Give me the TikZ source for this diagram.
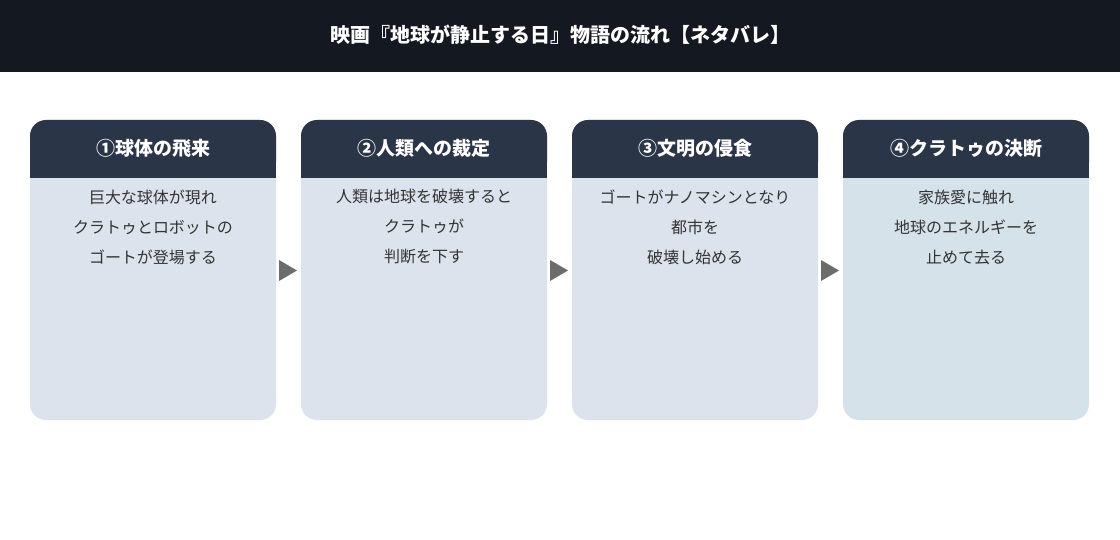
\documentclass[tikz,border=0pt]{standalone}
\usepackage{fontspec}
\setmainfont{Noto Sans CJK JP}
\begin{document}
\begin{tikzpicture}[x=1pt,y=1pt,
  card/.style={fill=#1,rounded corners=16pt,draw=none},
  head/.style={text=white,font=\fontsize{19}{22}\selectfont\bfseries,anchor=center},
  body/.style={text=black!80,font=\fontsize{16}{30}\selectfont,align=center,anchor=north},
  arr/.style={fill=gray!85!black,draw=none}]
\useasboundingbox (0,0) rectangle (1120,-540);
\fill[white] (0,0) rectangle (1120,-540);
\fill[fill={rgb,255:red,20;green,24;blue,33}] (0,0) rectangle (1120,-72);
\node[text=white,font=\fontsize{20}{24}\selectfont\bfseries] (title) at (560,-35) {映画『地球が静止する日』物語の流れ【ネタバレ】};
\definecolor{hd}{RGB}{42,53,71}
\definecolor{bd}{RGB}{220,227,236}
\definecolor{bd4}{RGB}{214,226,234}
\foreach \i/\x/\t/\b/\c in {1/30/①球体の飛来/{巨大な球体が現れ\\クラトゥとロボットの\\ゴートが登場する}/bd,
  2/301/②人類への裁定/{人類は地球を破壊すると\\クラトゥが\\判断を下す}/bd,
  3/572/③文明の侵食/{ゴートがナノマシンとなり\\都市を\\破壊し始める}/bd,
  4/843/④クラトゥの決断/{家族愛に触れ\\地球のエネルギーを\\止めて去る}/bd4}{
  \fill[\c,rounded corners=16pt] (\x,-120) rectangle ++(246,-300);
  \fill[hd,rounded corners=16pt] (\x,-120) rectangle ++(246,-58);
  \fill[hd] (\x,-150) rectangle ++(246,-28);
  \node[head] (h\i) at (\x+123,-148) {\t};
  \node[body] (b\i) at (\x+123,-186) {\b};
}
\foreach \x in {279,550,821}{
  \fill[arr] (\x,-260) -- (\x+18,-270.5) -- (\x,-281) -- cycle;
}
\end{tikzpicture}
\end{document}
